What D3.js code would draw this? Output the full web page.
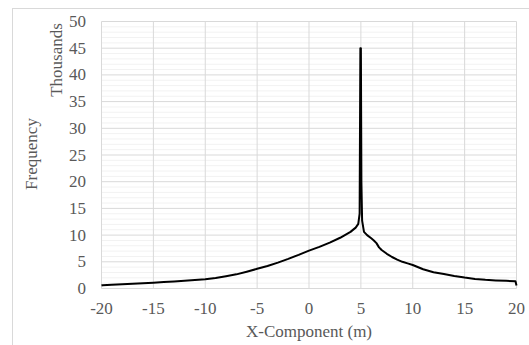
<!DOCTYPE html>
<html lang="en">

<head>
    <meta charset="UTF-8">
    <script src="https://d3js.org/d3.v7.min.js"></script>
    <title>X-Component histogram</title>
    <style>
        body { margin: 0; background: #fff; }
    </style>
</head>

<body>
    <div id="chart"></div>
    <script>
        // Data (x in m, frequency in thousands)
        const xValues = [-20, -19.9, -19, -18, -17, -16, -15, -14, -13, -12, -11, -10, -9, -8, -7, -6, -5, -4, -3, -2, -1,
            0, 1, 2, 3, 4, 4.5, 4.75, 4.88, 4.95, 5.0, 5.05, 5.12, 5.3, 5.6, 6, 6.25, 6.5, 6.75, 7, 7.5, 8, 8.5, 9, 9.5, 10,
            11, 12, 13, 14, 15, 16, 17, 18, 19, 19.9, 20];
        const freqValues = [0.56, 0.62, 0.7, 0.8, 0.88, 0.97, 1.07, 1.2, 1.33, 1.45, 1.6, 1.74, 1.98, 2.3, 2.65, 3.15, 3.69, 4.2, 4.85, 5.55, 6.3,
            7.1, 7.8, 8.6, 9.5, 10.6, 11.4, 12.1, 14, 45, 45, 20, 12.7, 10.6, 10.0, 9.4, 9.0, 8.5, 7.7, 7.2, 6.5, 5.9, 5.4, 5.0, 4.7, 4.4,
            3.6, 3.05, 2.7, 2.35, 2.05, 1.8, 1.63, 1.52, 1.43, 1.37, 0.56];
        const xTicks = [-20, -15, -10, -5, 0, 5, 10, 15, 20];
        const yTicks = [0, 5, 10, 15, 20, 25, 30, 35, 40, 45, 50];
        const yMinorTicks = d3.range(0, 51, 1);

        const data = xValues.map((x, i) => ({ x: x, y: freqValues[i] }));

        const width = 529;
        const height = 345;

        const svg = d3.select("#chart")
            .append("svg")
            .attr("width", width)
            .attr("height", height)
            .attr("font-family", "'Liberation Serif', 'Times New Roman', serif");

        // Chart border
        svg.append("rect")
            .attr("x", 12.5)
            .attr("y", 8.5)
            .attr("width", width)
            .attr("height", height)
            .attr("fill", "none")
            .attr("stroke", "#d9d9d9");

        // Scales
        const x = d3.scaleLinear()
            .domain([-20, 20])
            .range([101.5, 516.5]);

        const y = d3.scaleLinear()
            .domain([0, 50])
            .range([288.5, 21.5]);

        // Minor gridlines
        svg.append("g")
            .selectAll("line")
            .data(yMinorTicks.filter(d => d % 5 !== 0))
            .join("line")
            .attr("x1", x(-20))
            .attr("x2", x(20))
            .attr("y1", d => y(d))
            .attr("y2", d => y(d))
            .attr("stroke", "#f2f2f2")
            .attr("stroke-width", 1);

        // Major gridlines
        svg.append("g")
            .selectAll("line")
            .data(yTicks)
            .join("line")
            .attr("x1", x(-20))
            .attr("x2", x(20))
            .attr("y1", d => y(d))
            .attr("y2", d => y(d))
            .attr("stroke", "#d9d9d9")
            .attr("stroke-width", 1);

        svg.append("g")
            .selectAll("line")
            .data(xTicks)
            .join("line")
            .attr("x1", d => x(d))
            .attr("x2", d => x(d))
            .attr("y1", y(0))
            .attr("y2", y(50))
            .attr("stroke", "#d9d9d9")
            .attr("stroke-width", 1);

        // Tick labels
        svg.append("g")
            .selectAll("text")
            .data(xTicks)
            .join("text")
            .attr("x", d => x(d))
            .attr("y", 314)
            .attr("text-anchor", "middle")
            .attr("font-size", 17)
            .attr("fill", "#595959")
            .text(d => d);

        svg.append("g")
            .selectAll("text")
            .data(yTicks)
            .join("text")
            .attr("x", 86)
            .attr("y", d => y(d) + 5.5)
            .attr("text-anchor", "end")
            .attr("font-size", 17)
            .attr("fill", "#595959")
            .text(d => d);

        // Line
        const line = d3.line()
            .x(d => x(d.x))
            .y(d => y(d.y));

        svg.append("path")
            .datum(data)
            .attr("d", line)
            .attr("fill", "none")
            .attr("stroke", "#000")
            .attr("stroke-width", 2)
            .attr("stroke-linejoin", "round");

        // Axis titles
        svg.append("text")
            .attr("x", (x(-20) + x(20)) / 2)
            .attr("y", 337)
            .attr("text-anchor", "middle")
            .attr("font-size", 17)
            .attr("fill", "#595959")
            .text("X-Component (m)");

        svg.append("text")
            .attr("transform", "translate(61.5,60) rotate(-90)")
            .attr("text-anchor", "middle")
            .attr("font-size", 17)
            .attr("fill", "#595959")
            .text("Thousands");

        svg.append("text")
            .attr("transform", "translate(36.5,154) rotate(-90)")
            .attr("text-anchor", "middle")
            .attr("font-size", 17)
            .attr("fill", "#595959")
            .text("Frequency");
    </script>
</body>

</html>
